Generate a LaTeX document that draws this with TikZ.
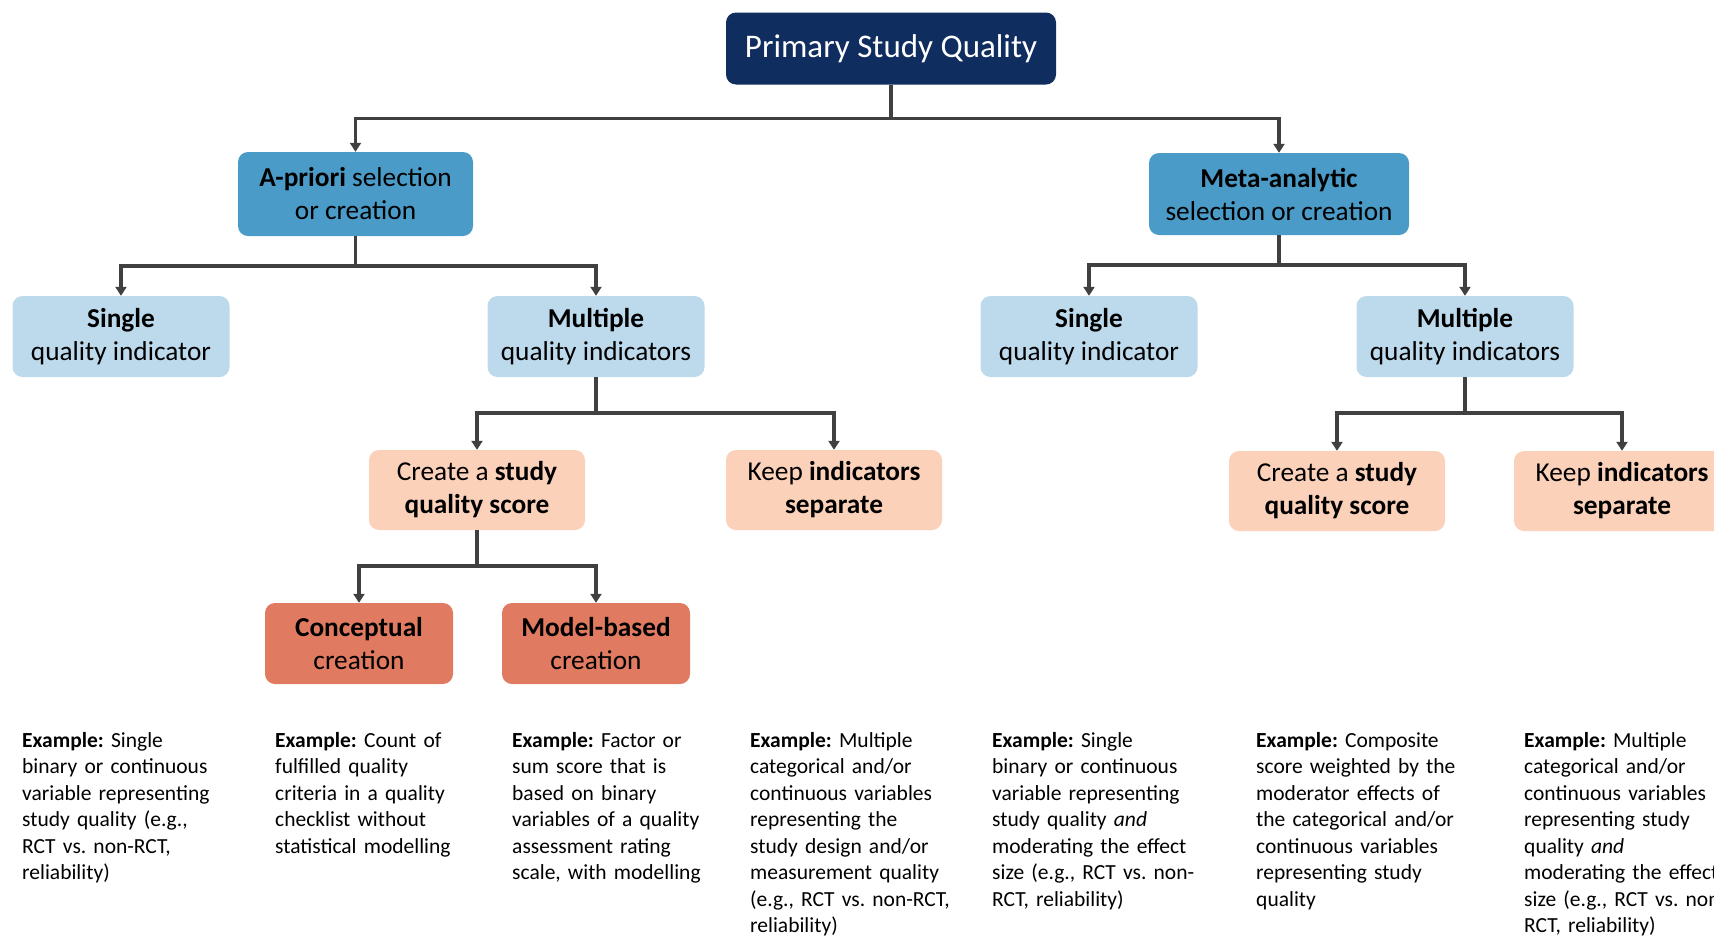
\documentclass[tikz,border=0pt]{standalone}
\usepackage{fontspec}
\setmainfont{Carlito}
\usetikzlibrary{arrows.meta}
\frenchspacing

\definecolor{navy}{HTML}{0F2D5E}
\definecolor{midblue}{HTML}{4A9BC7}
\definecolor{paleblue}{HTML}{BDD9EC}
\definecolor{peach}{HTML}{FBD1BA}
\definecolor{coral}{HTML}{E07A60}
\definecolor{linegray}{HTML}{404040}

\tikzset{
    box/.style={rounded corners=10pt, align=center, inner sep=0pt, font=\fontsize{27.3}{33}\selectfont},
    rootbox/.style={box, fill=navy, text=white, minimum width=330pt, minimum height=72pt, font=\fontsize{33}{38}\selectfont},
    methodbox/.style={box, fill=midblue, minimum width=235pt, minimum height=84pt},
    countbox/.style={box, fill=paleblue, minimum width=217pt, minimum height=81pt},
    scorebox/.style={box, fill=peach, minimum width=216pt, minimum height=80pt},
    creationbox/.style={box, fill=coral, minimum width=188pt, minimum height=81pt},
    link/.style={draw=linegray, line width=3.5pt, -{Triangle[width=11pt,length=9pt]}},
    example/.style={anchor=base west, align=left, inner sep=0pt, text width=260pt, font=\fontsize{21.5}{26.5}\selectfont},
}

\begin{document}
\begin{tikzpicture}[x=1pt, y=-1pt]
    \useasboundingbox (0, 0) rectangle (1714, 935);

    \node [rootbox] (psq) at (891, 48.5) {Primary Study Quality};

    \node [methodbox] (apriori) at (355.5, 194) {\textbf{A-priori} selection\\or creation};
    \node [methodbox, minimum width=260pt, minimum height=82pt] (meta) at (1279, 194) {\textbf{Meta-analytic}\\selection or creation};

    \node [countbox] (single1) at (121, 336.5) {\textbf{Single}\\quality indicator};
    \node [countbox] (multi1) at (596, 336.5) {\textbf{Multiple}\\quality indicators};
    \node [countbox] (single2) at (1089, 336.5) {\textbf{Single}\\quality indicator};
    \node [countbox] (multi2) at (1465, 336.5) {\textbf{Multiple}\\quality indicators};

    \node [scorebox] (score1) at (477, 490) {Create a \textbf{study}\\\textbf{quality score}};
    \node [scorebox] (keep1) at (834, 490) {Keep \textbf{indicators}\\\textbf{separate}};
    \node [scorebox] (score2) at (1337, 491) {Create a \textbf{study}\\\textbf{quality score}};
    \node [scorebox] (keep2) at (1622, 491) {Keep \textbf{indicators}\\\textbf{separate}};

    \node [creationbox] (concept) at (359, 643.5) {\textbf{Conceptual}\\creation};
    \node [creationbox] (model) at (596, 643.5) {\textbf{Model-based}\\creation};

    \draw [link] (psq.south) -- ++(0, 34) -| (apriori.north);
    \draw [link] (psq.south) -- ++(0, 34) -| (meta.north);

    \draw [link] (apriori.south) -- ++(0, 30) -| (single1.north);
    \draw [link] (apriori.south) -- ++(0, 30) -| (multi1.north);
    \draw [link] (meta.south) -- ++(0, 30) -| (single2.north);
    \draw [link] (meta.south) -- ++(0, 30) -| (multi2.north);

    \draw [link] (multi1.south) -- ++(0, 36) -| (score1.north);
    \draw [link] (multi1.south) -- ++(0, 36) -| (keep1.north);
    \draw [link] (multi2.south) -- ++(0, 36) -| (score2.north);
    \draw [link] (multi2.south) -- ++(0, 36) -| (keep2.north);

    \draw [link] (score1.south) -- ++(0, 36) -| (concept.north);
    \draw [link] (score1.south) -- ++(0, 36) -| (model.north);

    \node [example] (ex1) at (22, 747) {\textbf{Example:} Single\\binary or continuous\\variable representing\\study quality (e.g.,\\RCT vs. non-RCT,\\reliability)};
    \node [example] (ex2) at (275, 747) {\textbf{Example:} Count of\\fulfilled quality\\criteria in a quality\\checklist without\\statistical modelling};
    \node [example] (ex3) at (512, 747) {\textbf{Example:} Factor or\\sum score that is\\based on binary\\variables of a quality\\assessment rating\\scale, with modelling};
    \node [example] (ex4) at (750, 747) {\textbf{Example:} Multiple\\categorical and/or\\continuous variables\\representing the\\study design and/or\\measurement quality\\(e.g., RCT vs. non-RCT,\\reliability)};
    \node [example] (ex5) at (992, 747) {\textbf{Example:} Single\\binary or continuous\\variable representing\\study quality \textit{and}\\moderating the effect\\size (e.g., RCT vs. non-\\RCT, reliability)};
    \node [example] (ex6) at (1256, 747) {\textbf{Example:} Composite\\score weighted by the\\moderator effects of\\the categorical and/or\\continuous variables\\representing study\\quality};
    \node [example] (ex7) at (1524, 747) {\textbf{Example:} Multiple\\categorical and/or\\continuous variables\\representing study\\quality \textit{and}\\moderating the effect\\size (e.g., RCT vs. non-\\RCT, reliability)};
\end{tikzpicture}
\end{document}
